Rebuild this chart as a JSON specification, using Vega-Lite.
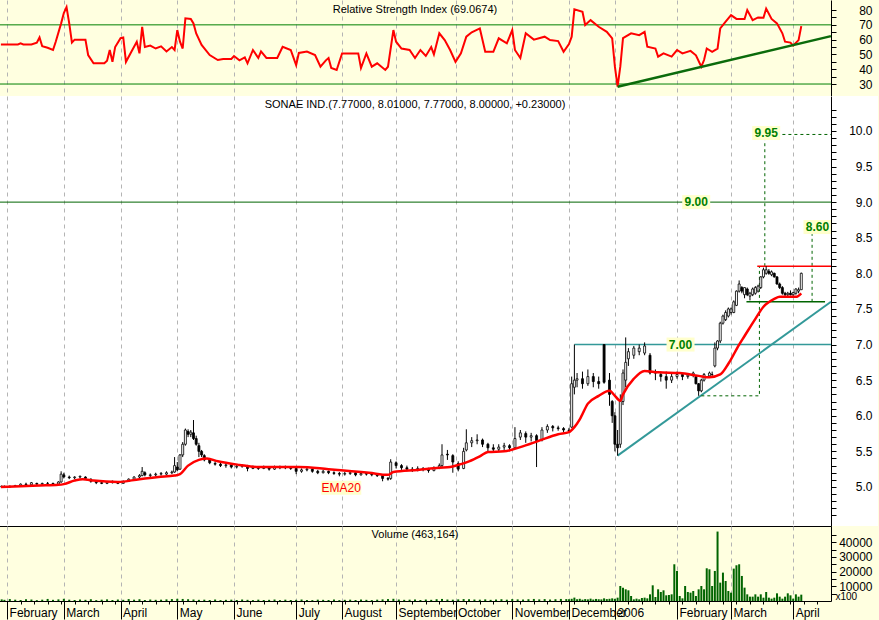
{
"$schema": "https://vega.github.io/schema/vega-lite/v6.json",
"background": "#FFFFE0",
"padding": {"left": -5, "top": 0, "right": 0, "bottom": 0},
"spacing": 0,
"config": {
  "view": {"stroke": null},
  "font": "Liberation Sans",
  "scale": {"continuousPadding": 0},
  "axis": {"labelFont": "Liberation Sans", "labelFontSize": 12, "labelColor": "#000000", "tickColor": "#000000", "domainColor": "#000000", "titleFont": "Liberation Sans"}
},
"datasets": {
  "rsi": [
    {"d":0.7,"r":56.8},{"d":7,"r":56.8},{"d":8,"r":57.5},{"d":9,"r":56.8},{"d":12,"r":56.8},{"d":14,"r":58},{"d":15,"r":61.5},{"d":16,"r":55.5},{"d":18,"r":54.5},{"d":20,"r":53},{"d":21,"r":58.6},{"d":23,"r":71},{"d":24,"r":78},{"d":25,"r":82},{"d":26,"r":71},{"d":27,"r":58},{"d":28,"r":60},{"d":32,"r":60},{"d":33,"r":49.6},{"d":35,"r":44},{"d":39,"r":44},{"d":40,"r":45.7},{"d":41,"r":53},{"d":42,"r":45},{"d":43,"r":55},{"d":45,"r":61},{"d":46,"r":61.5},{"d":47,"r":45},{"d":49,"r":51.8},{"d":51,"r":58.6},{"d":52,"r":50.7},{"d":53,"r":68.7},{"d":54,"r":55},{"d":56,"r":56},{"d":58,"r":54},{"d":60,"r":55.5},{"d":62,"r":52},{"d":64,"r":55},{"d":65,"r":53},{"d":66,"r":66.5},{"d":67,"r":58.6},{"d":68,"r":54},{"d":69,"r":74.4},{"d":71,"r":74},{"d":72,"r":71},{"d":73,"r":64.2},{"d":75,"r":56.4},{"d":78,"r":49.6},{"d":81,"r":46.2},{"d":83,"r":46.9},{"d":86,"r":46.9},{"d":87,"r":48.9},{"d":89,"r":46},{"d":91,"r":48},{"d":92,"r":44},{"d":94,"r":53},{"d":96,"r":47.6},{"d":97,"r":52},{"d":99,"r":47.6},{"d":103,"r":47.6},{"d":105,"r":55.2},{"d":108,"r":53},{"d":110,"r":42.8},{"d":111,"r":51},{"d":114,"r":52},{"d":117,"r":49.6},{"d":119,"r":41.7},{"d":121,"r":46},{"d":122,"r":47.6},{"d":123,"r":40.8},{"d":125,"r":39.5},{"d":127,"r":50.7},{"d":133,"r":50.7},{"d":134,"r":40.8},{"d":136,"r":50.7},{"d":138,"r":41.7},{"d":140,"r":44},{"d":143,"r":39.5},{"d":144,"r":41.7},{"d":146,"r":66.5},{"d":147,"r":58.6},{"d":149,"r":54},{"d":152,"r":53},{"d":154,"r":47.6},{"d":156,"r":53},{"d":158,"r":49},{"d":160,"r":55},{"d":161,"r":50},{"d":163,"r":64.3},{"d":165,"r":59.7},{"d":167,"r":53},{"d":169,"r":45},{"d":171,"r":50.7},{"d":173,"r":62},{"d":175,"r":65},{"d":178,"r":67.6},{"d":180,"r":51.8},{"d":183,"r":51.8},{"d":185,"r":60.9},{"d":188,"r":57.5},{"d":190,"r":66.5},{"d":191,"r":53},{"d":193,"r":47.6},{"d":195,"r":64.3},{"d":198,"r":60},{"d":202,"r":62},{"d":204,"r":59.7},{"d":207,"r":59},{"d":209,"r":51.8},{"d":211,"r":57},{"d":212,"r":62},{"d":213,"r":80.5},{"d":216,"r":78.9},{"d":217,"r":69.9},{"d":219,"r":73.2},{"d":222,"r":68.7},{"d":225,"r":65.3},{"d":227,"r":60.9},{"d":228,"r":41.7},{"d":229,"r":28.2},{"d":230,"r":41.7},{"d":231,"r":61},{"d":234,"r":64.3},{"d":237,"r":63},{"d":239,"r":65.3},{"d":240,"r":55.2},{"d":243,"r":54},{"d":244,"r":48.5},{"d":246,"r":50.7},{"d":249,"r":48.5},{"d":251,"r":53},{"d":253,"r":50.7},{"d":256,"r":52.4},{"d":258,"r":49.4},{"d":260,"r":41.7},{"d":261,"r":46.2},{"d":262,"r":54},{"d":264,"r":51.8},{"d":266,"r":54},{"d":267,"r":67.6},{"d":269,"r":72.1},{"d":271,"r":76.6},{"d":273,"r":74},{"d":276,"r":74},{"d":277,"r":80},{"d":279,"r":73.2},{"d":281,"r":75},{"d":283,"r":74.8},{"d":284,"r":81},{"d":286,"r":74},{"d":288,"r":71},{"d":290,"r":64.3},{"d":291,"r":58.6},{"d":293,"r":58},{"d":294,"r":56},{"d":296,"r":59.7},{"d":297,"r":69.1}
  ],
  "px": [
    {"d":1,"o":5.00,"h":5.02,"l":4.99,"c":5.01},{"d":2,"o":5.01,"h":5.02,"l":4.99,"c":5.00},{"d":4,"o":5.00,"h":5.02,"l":4.99,"c":5.01},{"d":6,"o":5.01,"h":5.03,"l":5.00,"c":5.02},{"d":8,"o":5.02,"h":5.05,"l":5.01,"c":5.04},{"d":10,"o":5.04,"h":5.06,"l":5.02,"c":5.03},{"d":12,"o":5.03,"h":5.07,"l":5.02,"c":5.06},{"d":14,"o":5.05,"h":5.06,"l":5.03,"c":5.04},{"d":16,"o":5.04,"h":5.06,"l":5.03,"c":5.05},{"d":18,"o":5.05,"h":5.07,"l":5.04,"c":5.05},{"d":20,"o":5.05,"h":5.06,"l":5.03,"c":5.04},{"d":22,"o":5.04,"h":5.08,"l":5.03,"c":5.07},{"d":23,"o":5.07,"h":5.22,"l":5.06,"c":5.18},{"d":24,"o":5.17,"h":5.20,"l":5.12,"c":5.14},{"d":26,"o":5.14,"h":5.16,"l":5.11,"c":5.13},{"d":28,"o":5.13,"h":5.15,"l":5.11,"c":5.14},{"d":30,"o":5.14,"h":5.16,"l":5.12,"c":5.15},{"d":32,"o":5.14,"h":5.15,"l":5.10,"c":5.12},{"d":34,"o":5.11,"h":5.12,"l":5.06,"c":5.08},{"d":36,"o":5.08,"h":5.09,"l":5.04,"c":5.06},{"d":38,"o":5.06,"h":5.08,"l":5.04,"c":5.05},{"d":40,"o":5.05,"h":5.08,"l":5.04,"c":5.07},{"d":42,"o":5.06,"h":5.09,"l":5.05,"c":5.08},{"d":44,"o":5.07,"h":5.08,"l":5.04,"c":5.05},{"d":46,"o":5.05,"h":5.09,"l":5.05,"c":5.08},{"d":48,"o":5.08,"h":5.12,"l":5.07,"c":5.11},{"d":50,"o":5.11,"h":5.15,"l":5.10,"c":5.14},{"d":52,"o":5.14,"h":5.18,"l":5.12,"c":5.16},{"d":53,"o":5.16,"h":5.28,"l":5.15,"c":5.22},{"d":54,"o":5.20,"h":5.22,"l":5.15,"c":5.17},{"d":56,"o":5.16,"h":5.19,"l":5.14,"c":5.17},{"d":58,"o":5.17,"h":5.20,"l":5.15,"c":5.18},{"d":60,"o":5.18,"h":5.21,"l":5.16,"c":5.19},{"d":62,"o":5.18,"h":5.22,"l":5.17,"c":5.20},{"d":64,"o":5.20,"h":5.23,"l":5.18,"c":5.21},{"d":65,"o":5.21,"h":5.42,"l":5.20,"c":5.30},{"d":66,"o":5.28,"h":5.35,"l":5.22,"c":5.24},{"d":67,"o":5.25,"h":5.46,"l":5.24,"c":5.45},{"d":68,"o":5.45,"h":5.63,"l":5.42,"c":5.60},{"d":69,"o":5.60,"h":5.82,"l":5.58,"c":5.80},{"d":70,"o":5.78,"h":5.81,"l":5.70,"c":5.74},{"d":71,"o":5.74,"h":5.80,"l":5.70,"c":5.77},{"d":72,"o":5.76,"h":5.94,"l":5.66,"c":5.68},{"d":73,"o":5.68,"h":5.72,"l":5.58,"c":5.60},{"d":74,"o":5.58,"h":5.62,"l":5.42,"c":5.50},{"d":75,"o":5.50,"h":5.52,"l":5.42,"c":5.45},{"d":76,"o":5.44,"h":5.46,"l":5.36,"c":5.38},{"d":78,"o":5.38,"h":5.40,"l":5.32,"c":5.34},{"d":80,"o":5.33,"h":5.36,"l":5.30,"c":5.32},{"d":82,"o":5.32,"h":5.34,"l":5.28,"c":5.30},{"d":84,"o":5.30,"h":5.33,"l":5.27,"c":5.31},{"d":86,"o":5.31,"h":5.32,"l":5.26,"c":5.28},{"d":88,"o":5.28,"h":5.31,"l":5.26,"c":5.29},{"d":90,"o":5.29,"h":5.32,"l":5.27,"c":5.30},{"d":92,"o":5.30,"h":5.31,"l":5.22,"c":5.26},{"d":94,"o":5.26,"h":5.30,"l":5.25,"c":5.28},{"d":96,"o":5.28,"h":5.29,"l":5.24,"c":5.26},{"d":98,"o":5.26,"h":5.30,"l":5.25,"c":5.28},{"d":100,"o":5.28,"h":5.29,"l":5.23,"c":5.25},{"d":102,"o":5.25,"h":5.30,"l":5.24,"c":5.28},{"d":104,"o":5.28,"h":5.30,"l":5.25,"c":5.27},{"d":106,"o":5.27,"h":5.30,"l":5.25,"c":5.28},{"d":108,"o":5.28,"h":5.29,"l":5.24,"c":5.26},{"d":110,"o":5.26,"h":5.27,"l":5.18,"c":5.22},{"d":112,"o":5.22,"h":5.26,"l":5.20,"c":5.24},{"d":114,"o":5.24,"h":5.27,"l":5.22,"c":5.25},{"d":116,"o":5.25,"h":5.26,"l":5.20,"c":5.22},{"d":118,"o":5.22,"h":5.24,"l":5.18,"c":5.20},{"d":120,"o":5.20,"h":5.24,"l":5.19,"c":5.22},{"d":122,"o":5.22,"h":5.23,"l":5.18,"c":5.20},{"d":124,"o":5.20,"h":5.22,"l":5.17,"c":5.19},{"d":126,"o":5.19,"h":5.21,"l":5.15,"c":5.18},{"d":128,"o":5.18,"h":5.21,"l":5.16,"c":5.19},{"d":130,"o":5.19,"h":5.22,"l":5.17,"c":5.20},{"d":132,"o":5.20,"h":5.21,"l":5.15,"c":5.17},{"d":134,"o":5.17,"h":5.21,"l":5.16,"c":5.19},{"d":136,"o":5.19,"h":5.20,"l":5.16,"c":5.18},{"d":138,"o":5.18,"h":5.20,"l":5.15,"c":5.17},{"d":140,"o":5.17,"h":5.19,"l":5.14,"c":5.16},{"d":142,"o":5.16,"h":5.17,"l":5.08,"c":5.12},{"d":144,"o":5.12,"h":5.14,"l":5.09,"c":5.11},{"d":145,"o":5.12,"h":5.39,"l":5.10,"c":5.35},{"d":147,"o":5.34,"h":5.36,"l":5.26,"c":5.30},{"d":149,"o":5.30,"h":5.32,"l":5.24,"c":5.27},{"d":151,"o":5.27,"h":5.30,"l":5.22,"c":5.25},{"d":153,"o":5.25,"h":5.28,"l":5.21,"c":5.24},{"d":155,"o":5.24,"h":5.29,"l":5.22,"c":5.26},{"d":157,"o":5.26,"h":5.28,"l":5.22,"c":5.25},{"d":159,"o":5.25,"h":5.27,"l":5.20,"c":5.23},{"d":161,"o":5.23,"h":5.29,"l":5.22,"c":5.27},{"d":163,"o":5.27,"h":5.33,"l":5.25,"c":5.30},{"d":164,"o":5.30,"h":5.60,"l":5.28,"c":5.45},{"d":166,"o":5.46,"h":5.52,"l":5.38,"c":5.45},{"d":168,"o":5.44,"h":5.46,"l":5.20,"c":5.35},{"d":170,"o":5.33,"h":5.36,"l":5.22,"c":5.25},{"d":172,"o":5.26,"h":5.55,"l":5.25,"c":5.50},{"d":173,"o":5.52,"h":5.81,"l":5.50,"c":5.62},{"d":175,"o":5.62,"h":5.70,"l":5.56,"c":5.65},{"d":177,"o":5.65,"h":5.74,"l":5.60,"c":5.66},{"d":179,"o":5.66,"h":5.68,"l":5.56,"c":5.60},{"d":181,"o":5.60,"h":5.62,"l":5.50,"c":5.55},{"d":183,"o":5.55,"h":5.60,"l":5.49,"c":5.53},{"d":185,"o":5.53,"h":5.60,"l":5.50,"c":5.56},{"d":187,"o":5.56,"h":5.62,"l":5.52,"c":5.58},{"d":189,"o":5.58,"h":5.60,"l":5.50,"c":5.55},{"d":191,"o":5.55,"h":5.84,"l":5.54,"c":5.68},{"d":193,"o":5.70,"h":5.80,"l":5.66,"c":5.76},{"d":195,"o":5.75,"h":5.78,"l":5.62,"c":5.70},{"d":197,"o":5.70,"h":5.76,"l":5.64,"c":5.72},{"d":199,"o":5.72,"h":5.74,"l":5.28,"c":5.65},{"d":201,"o":5.66,"h":5.84,"l":5.64,"c":5.80},{"d":203,"o":5.80,"h":5.88,"l":5.76,"c":5.85},{"d":205,"o":5.85,"h":5.87,"l":5.78,"c":5.83},{"d":207,"o":5.83,"h":5.86,"l":5.79,"c":5.82},{"d":209,"o":5.82,"h":5.84,"l":5.77,"c":5.80},{"d":211,"o":5.80,"h":5.83,"l":5.76,"c":5.79},{"d":212,"o":5.84,"h":6.55,"l":5.83,"c":6.45},{"d":213,"o":6.40,"h":7.00,"l":6.30,"c":6.50},{"d":214,"o":6.50,"h":6.60,"l":6.40,"c":6.52},{"d":216,"o":6.52,"h":6.62,"l":6.38,"c":6.45},{"d":218,"o":6.45,"h":6.65,"l":6.42,"c":6.55},{"d":220,"o":6.55,"h":6.60,"l":6.40,"c":6.48},{"d":222,"o":6.48,"h":6.55,"l":6.38,"c":6.45},{"d":224,"o":7.00,"h":7.00,"l":6.45,"c":6.47},{"d":226,"o":6.50,"h":6.60,"l":6.14,"c":6.30},{"d":227,"o":6.20,"h":6.22,"l":5.90,"c":6.00},{"d":228,"o":6.00,"h":6.05,"l":5.50,"c":5.60},{"d":229,"o":5.60,"h":5.80,"l":5.44,"c":5.55},{"d":230,"o":5.60,"h":6.30,"l":5.55,"c":6.20},{"d":231,"o":6.20,"h":6.65,"l":6.15,"c":6.60},{"d":232,"o":6.50,"h":7.10,"l":6.40,"c":6.75},{"d":233,"o":6.80,"h":6.95,"l":6.70,"c":6.90},{"d":235,"o":6.85,"h":6.98,"l":6.80,"c":6.95},{"d":237,"o":6.90,"h":7.00,"l":6.85,"c":6.95},{"d":239,"o":6.88,"h":7.03,"l":6.85,"c":6.98},{"d":241,"o":6.85,"h":6.88,"l":6.58,"c":6.60},{"d":243,"o":6.60,"h":6.65,"l":6.50,"c":6.60},{"d":245,"o":6.58,"h":6.62,"l":6.48,"c":6.55},{"d":247,"o":6.55,"h":6.62,"l":6.38,"c":6.50},{"d":249,"o":6.50,"h":6.60,"l":6.46,"c":6.55},{"d":251,"o":6.55,"h":6.62,"l":6.52,"c":6.58},{"d":253,"o":6.58,"h":6.60,"l":6.50,"c":6.55},{"d":255,"o":6.55,"h":6.60,"l":6.52,"c":6.57},{"d":257,"o":6.57,"h":6.62,"l":6.54,"c":6.60},{"d":258,"o":6.55,"h":6.56,"l":6.44,"c":6.45},{"d":259,"o":6.45,"h":6.46,"l":6.28,"c":6.35},{"d":260,"o":6.35,"h":6.52,"l":6.33,"c":6.50},{"d":261,"o":6.50,"h":6.60,"l":6.48,"c":6.58},{"d":263,"o":6.56,"h":6.62,"l":6.53,"c":6.60},{"d":264,"o":6.58,"h":6.62,"l":6.55,"c":6.58},{"d":265,"o":6.70,"h":7.03,"l":6.68,"c":6.95},{"d":266,"o":6.95,"h":7.06,"l":6.92,"c":7.05},{"d":267,"o":7.05,"h":7.32,"l":7.02,"c":7.30},{"d":268,"o":7.30,"h":7.42,"l":7.28,"c":7.40},{"d":269,"o":7.35,"h":7.48,"l":7.33,"c":7.45},{"d":270,"o":7.40,"h":7.52,"l":7.38,"c":7.50},{"d":271,"o":7.45,"h":7.52,"l":7.42,"c":7.50},{"d":272,"o":7.45,"h":7.62,"l":7.44,"c":7.60},{"d":273,"o":7.55,"h":7.76,"l":7.54,"c":7.75},{"d":274,"o":7.75,"h":7.90,"l":7.73,"c":7.85},{"d":275,"o":7.80,"h":7.82,"l":7.72,"c":7.75},{"d":276,"o":7.70,"h":7.80,"l":7.65,"c":7.80},{"d":277,"o":7.78,"h":7.80,"l":7.68,"c":7.70},{"d":278,"o":7.68,"h":7.74,"l":7.62,"c":7.72},{"d":279,"o":7.70,"h":7.80,"l":7.68,"c":7.78},{"d":280,"o":7.72,"h":7.82,"l":7.70,"c":7.80},{"d":281,"o":7.75,"h":7.84,"l":7.73,"c":7.82},{"d":282,"o":7.80,"h":7.96,"l":7.78,"c":7.95},{"d":283,"o":7.95,"h":8.08,"l":7.93,"c":8.05},{"d":284,"o":8.00,"h":8.10,"l":7.98,"c":8.05},{"d":285,"o":8.03,"h":8.06,"l":7.98,"c":8.00},{"d":286,"o":7.98,"h":8.04,"l":7.96,"c":8.02},{"d":287,"o":8.00,"h":8.01,"l":7.94,"c":7.95},{"d":288,"o":7.95,"h":7.96,"l":7.84,"c":7.85},{"d":289,"o":7.85,"h":7.87,"l":7.78,"c":7.80},{"d":290,"o":7.80,"h":7.82,"l":7.70,"c":7.72},{"d":291,"o":7.72,"h":7.74,"l":7.68,"c":7.70},{"d":292,"o":7.70,"h":7.74,"l":7.68,"c":7.72},{"d":293,"o":7.72,"h":7.76,"l":7.69,"c":7.70},{"d":294,"o":7.70,"h":7.74,"l":7.68,"c":7.73},{"d":295,"o":7.72,"h":7.79,"l":7.70,"c":7.78},{"d":296,"o":7.75,"h":7.80,"l":7.72,"c":7.77},{"d":297,"o":7.77,"h":8.01,"l":7.77,"c":8.00}
  ],
  "ema": [
    {"d":0.7,"p":5.00},{"d":8,"p":5.01},{"d":15,"p":5.02},{"d":22,"p":5.03},{"d":24,"p":5.04},{"d":28,"p":5.09},{"d":31,"p":5.11},{"d":35,"p":5.09},{"d":44,"p":5.07},{"d":52,"p":5.11},{"d":59,"p":5.14},{"d":65,"p":5.16},{"d":67,"p":5.18},{"d":70,"p":5.30},{"d":74,"p":5.38},{"d":77,"p":5.40},{"d":81,"p":5.36},{"d":89,"p":5.31},{"d":96,"p":5.28},{"d":111,"p":5.28},{"d":122,"p":5.25},{"d":137,"p":5.20},{"d":144,"p":5.17},{"d":146,"p":5.21},{"d":155,"p":5.24},{"d":163,"p":5.27},{"d":167,"p":5.28},{"d":170,"p":5.31},{"d":174,"p":5.36},{"d":178,"p":5.43},{"d":181,"p":5.49},{"d":187,"p":5.50},{"d":193,"p":5.56},{"d":200,"p":5.65},{"d":207,"p":5.74},{"d":211,"p":5.77},{"d":213,"p":5.84},{"d":215,"p":5.95},{"d":218,"p":6.17},{"d":222,"p":6.28},{"d":226,"p":6.35},{"d":228,"p":6.28},{"d":230,"p":6.21},{"d":231,"p":6.30},{"d":235,"p":6.52},{"d":239,"p":6.63},{"d":244,"p":6.61},{"d":252,"p":6.60},{"d":259,"p":6.56},{"d":263,"p":6.54},{"d":267,"p":6.58},{"d":270,"p":6.73},{"d":274,"p":7.00},{"d":276,"p":7.12},{"d":280,"p":7.36},{"d":283,"p":7.53},{"d":287,"p":7.64},{"d":289,"p":7.67},{"d":295,"p":7.67},{"d":297,"p":7.72}
  ],
  "vol": [
    {"d":1,"v":1100},{"d":2,"v":800},{"d":4,"v":1300},{"d":6,"v":900},{"d":8,"v":700},{"d":10,"v":1200},{"d":12,"v":1000},{"d":14,"v":600},{"d":16,"v":900},{"d":18,"v":1400},{"d":20,"v":800},{"d":22,"v":1100},{"d":24,"v":1500},{"d":26,"v":900},{"d":28,"v":700},{"d":30,"v":1000},{"d":32,"v":800},{"d":34,"v":1200},{"d":36,"v":600},{"d":38,"v":900},{"d":40,"v":1100},{"d":42,"v":700},{"d":44,"v":1000},{"d":46,"v":800},{"d":48,"v":1300},{"d":50,"v":900},{"d":52,"v":1200},{"d":54,"v":700},{"d":56,"v":1000},{"d":58,"v":800},{"d":60,"v":900},{"d":62,"v":1100},{"d":64,"v":1300},{"d":66,"v":1500},{"d":68,"v":1400},{"d":70,"v":1200},{"d":72,"v":1000},{"d":74,"v":800},{"d":76,"v":900},{"d":78,"v":700},{"d":80,"v":1000},{"d":82,"v":600},{"d":84,"v":800},{"d":86,"v":900},{"d":88,"v":700},{"d":90,"v":1000},{"d":92,"v":800},{"d":94,"v":600},{"d":96,"v":900},{"d":98,"v":700},{"d":100,"v":800},{"d":102,"v":1000},{"d":104,"v":600},{"d":106,"v":900},{"d":108,"v":700},{"d":110,"v":800},{"d":112,"v":1000},{"d":114,"v":700},{"d":116,"v":600},{"d":118,"v":900},{"d":120,"v":800},{"d":122,"v":700},{"d":124,"v":1000},{"d":126,"v":600},{"d":128,"v":800},{"d":130,"v":900},{"d":132,"v":700},{"d":134,"v":1000},{"d":136,"v":800},{"d":138,"v":600},{"d":140,"v":900},{"d":142,"v":1100},{"d":144,"v":1300},{"d":146,"v":1500},{"d":148,"v":1000},{"d":150,"v":800},{"d":152,"v":900},{"d":154,"v":1100},{"d":156,"v":700},{"d":158,"v":1000},{"d":160,"v":800},{"d":162,"v":1200},{"d":164,"v":1400},{"d":166,"v":1000},{"d":168,"v":900},{"d":170,"v":1100},{"d":172,"v":1300},{"d":174,"v":1200},{"d":176,"v":1000},{"d":178,"v":900},{"d":180,"v":1100},{"d":182,"v":800},{"d":184,"v":1000},{"d":186,"v":1200},{"d":188,"v":900},{"d":190,"v":1300},{"d":192,"v":1100},{"d":194,"v":1000},{"d":196,"v":1200},{"d":198,"v":1400},{"d":200,"v":1100},{"d":202,"v":1300},{"d":204,"v":1000},{"d":206,"v":1200},{"d":208,"v":1400},{"d":210,"v":1300},
    {"d":211,"v":1200},{"d":212,"v":1500},{"d":213,"v":2300},{"d":214,"v":1200},{"d":215,"v":1500},{"d":216,"v":900},{"d":217,"v":1300},{"d":218,"v":1100},{"d":219,"v":1600},{"d":220,"v":1000},{"d":221,"v":1400},{"d":222,"v":1200},{"d":223,"v":1100},{"d":224,"v":1800},{"d":225,"v":1300},{"d":226,"v":1500},{"d":227,"v":1800},{"d":228,"v":1500},{"d":229,"v":2270},{"d":230,"v":10215},{"d":231,"v":9080},{"d":232,"v":7945},{"d":233,"v":7260},{"d":234,"v":3400},{"d":235,"v":1135},{"d":236,"v":1590},{"d":237,"v":1135},{"d":238,"v":2040},{"d":239,"v":2270},{"d":240,"v":1816},{"d":241,"v":4540},{"d":242,"v":10670},{"d":243,"v":2720},{"d":244,"v":7945},{"d":245,"v":6130},{"d":246,"v":7260},{"d":247,"v":3860},{"d":248,"v":4090},{"d":249,"v":4540},{"d":250,"v":24970},{"d":251,"v":20430},{"d":252,"v":3400},{"d":253,"v":1816},{"d":254,"v":10215},{"d":255,"v":6130},{"d":256,"v":5675},{"d":257,"v":6810},{"d":258,"v":3400},{"d":259,"v":7945},{"d":260,"v":10215},{"d":261,"v":7945},{"d":262,"v":22250},{"d":263,"v":21565},{"d":264,"v":10215},{"d":265,"v":20430},{"d":266,"v":47216},{"d":267,"v":12485},{"d":268,"v":19295},{"d":269,"v":13620},{"d":270,"v":6810},{"d":271,"v":5675},{"d":272,"v":22020},{"d":273,"v":24290},{"d":274,"v":24970},{"d":275,"v":17025},{"d":276,"v":9080},{"d":277,"v":4540},{"d":278,"v":2950},{"d":279,"v":2950},{"d":280,"v":4540},{"d":281,"v":2950},{"d":282,"v":4540},{"d":283,"v":2270},{"d":284,"v":6130},{"d":285,"v":2270},{"d":286,"v":1590},{"d":287,"v":2270},{"d":288,"v":5220},{"d":289,"v":2950},{"d":290,"v":1590},{"d":291,"v":2950},{"d":292,"v":5220},{"d":293,"v":3860},{"d":294,"v":1590},{"d":295,"v":4540},{"d":296,"v":2950},{"d":297,"v":4310}
  ],
  "levels": [
    {"d":258.1,"p":9.0,"t":"9.00"},{"d":252.3,"p":7.0,"t":"7.00"},{"d":284,"p":9.97,"t":"9.95"},{"d":303,"p":8.65,"t":"8.60"}
  ],
  "dash": [
    {"s":"a","i":0,"d":260,"p":6.28},{"s":"a","i":1,"d":281.5,"p":6.28},{"s":"a","i":2,"d":281.5,"p":8.1},
    {"s":"b","i":0,"d":283.5,"p":8.1},{"s":"b","i":1,"d":283.5,"p":9.87},
    {"s":"c","i":0,"d":290,"p":9.95},{"s":"c","i":1,"d":308,"p":9.95},
    {"s":"e","i":0,"d":301,"p":7.6},{"s":"e","i":1,"d":301,"p":8.55}
  ]
},
"vconcat": [
  {
    "width": 832, "height": 96,
    "encoding": {
      "x": {"field": "d", "type": "quantitative", "scale": {"domain": [0, 308], "nice": false, "zero": false, "padding": 0},
            "axis": {"orient": "bottom", "values": [3,24,45,66,87,110,127,147,169,190,211,228,251,271,294], "grid": true, "gridColor": "#b4b4b4", "gridDash": [4,4], "labels": false, "ticks": false, "domain": true, "title": null}},
      "y": {"field": "r", "type": "quantitative", "scale": {"domain": [21.9, 86.8], "nice": false, "zero": false, "padding": 0},
            "axis": {"orient": "right", "values": [30,35,40,45,50,55,60,65,70,75,80], "labelExpr": "datum.value % 10 == 0 ? format(datum.value, 'd') : ''", "labelAlign": "right", "labelBaseline": "middle", "labelPadding": 36, "tickSize": 5, "grid": false, "title": null}}
    },
    "layer": [
      {
        "data": {"values": [{"d": 0, "r": 30}, {"d": 308, "r": 30}, {"d": 0, "r": 70}, {"d": 308, "r": 70}]},
        "mark": {"type": "line", "color": "#008000", "strokeWidth": 1},
        "encoding": {"detail": {"field": "r", "type": "nominal"}}
      },
      {
        "data": {"name": "rsi"},
        "mark": {"type": "line", "color": "#FF0000", "strokeWidth": 2}
      },
      {
        "data": {"values": [{"d": 229, "r": 28.2}, {"d": 308, "r": 62.4}]},
        "mark": {"type": "line", "color": "#0B6B0B", "strokeWidth": 2.5}
      },
      {
        "data": {"values": [{"d": 154, "r": 80.3, "t": "Relative Strength Index (69.0674)"}]},
        "mark": {"type": "text", "font": "Liberation Sans", "fontSize": 11, "color": "#000000", "align": "center", "baseline": "middle"},
        "encoding": {"text": {"field": "t"}}
      }
    ]
  },
  {
    "width": 832, "height": 430,
    "view": {"fill": "white", "stroke": null},
    "encoding": {
      "x": {"field": "d", "type": "quantitative", "scale": {"domain": [0, 308], "nice": false, "zero": false, "padding": 0},
            "axis": {"orient": "bottom", "values": [3,24,45,66,87,110,127,147,169,190,211,228,251,271,294], "grid": true, "gridColor": "#b4b4b4", "gridDash": [4,4], "labels": false, "ticks": false, "domain": true, "title": null}},
      "y": {"field": "p", "type": "quantitative", "scale": {"domain": [4.452, 10.49], "nice": false, "zero": false, "padding": 0},
            "axis": {"orient": "right", "zindex": 1, "values": [4.6,4.7,4.8,4.9,5,5.1,5.2,5.3,5.4,5.5,5.6,5.7,5.8,5.9,6,6.1,6.2,6.3,6.4,6.5,6.6,6.7,6.8,6.9,7,7.1,7.2,7.3,7.4,7.5,7.6,7.7,7.8,7.9,8,8.1,8.2,8.3,8.4,8.5,8.6,8.7,8.8,8.9,9,9.1,9.2,9.3,9.4,9.5,9.6,9.7,9.8,9.9,10,10.1,10.2,10.3], "labelExpr": "abs(datum.value*2 - round(datum.value*2)) < 0.01 ? format(datum.value, '.1f') : ''", "labelAlign": "right", "labelBaseline": "middle", "labelPadding": 36, "tickSize": 5, "grid": false, "title": null}}
    },
    "layer": [
      {
        "data": {"values": [{"d": 308, "d2": 325.4, "p": 4.452, "p2": 10.49}]},
        "mark": {"type": "rect", "color": "#FFFFFF"},
        "encoding": {"x2": {"field": "d2"}, "y2": {"field": "p2"}}
      },
      {
        "data": {"values": [{"d": 0, "p": 9.0}, {"d": 308, "p": 9.0}]},
        "mark": {"type": "line", "color": "#006400", "strokeWidth": 1}
      },
      {
        "data": {"values": [{"d": 213, "p": 7.0}, {"d": 308, "p": 7.0}]},
        "mark": {"type": "line", "color": "#339999", "strokeWidth": 1.5}
      },
      {
        "data": {"values": [{"d": 229, "p": 5.44}, {"d": 308, "p": 7.6}]},
        "mark": {"type": "line", "color": "#339999", "strokeWidth": 2}
      },
      {
        "data": {"name": "dash"},
        "mark": {"type": "line", "color": "#006400", "strokeWidth": 1, "strokeDash": [3, 3]},
        "encoding": {"detail": {"field": "s", "type": "nominal"}, "order": {"field": "i", "type": "quantitative"}}
      },
      {
        "data": {"values": [{"d": 280.7, "p": 8.1}, {"d": 308, "p": 8.1}]},
        "mark": {"type": "line", "color": "#FF0000", "strokeWidth": 1.5}
      },
      {
        "data": {"values": [{"d": 276.7, "p": 7.6}, {"d": 305.8, "p": 7.6}]},
        "mark": {"type": "line", "color": "#006400", "strokeWidth": 1.5}
      },
      {
        "data": {"name": "px"},
        "mark": {"type": "rule", "color": "#000000", "strokeWidth": 1},
        "encoding": {
          "y": {"field": "l", "type": "quantitative", "scale": {"domain": [4.452, 10.49], "nice": false, "zero": false, "padding": 0},
                "axis": {"orient": "right", "zindex": 1, "values": [4.6,4.7,4.8,4.9,5,5.1,5.2,5.3,5.4,5.5,5.6,5.7,5.8,5.9,6,6.1,6.2,6.3,6.4,6.5,6.6,6.7,6.8,6.9,7,7.1,7.2,7.3,7.4,7.5,7.6,7.7,7.8,7.9,8,8.1,8.2,8.3,8.4,8.5,8.6,8.7,8.8,8.9,9,9.1,9.2,9.3,9.4,9.5,9.6,9.7,9.8,9.9,10,10.1,10.2,10.3], "labelExpr": "abs(datum.value*2 - round(datum.value*2)) < 0.01 ? format(datum.value, '.1f') : ''", "labelAlign": "right", "labelBaseline": "middle", "labelPadding": 36, "tickSize": 5, "grid": false, "title": null}},
          "y2": {"field": "h"}
        }
      },
      {
        "data": {"name": "px"},
        "mark": {"type": "bar", "size": 2, "stroke": "#000000", "strokeWidth": 0.8},
        "encoding": {
          "y": {"field": "o", "type": "quantitative", "scale": {"domain": [4.452, 10.49], "nice": false, "zero": false, "padding": 0},
                "axis": {"orient": "right", "zindex": 1, "values": [4.6,4.7,4.8,4.9,5,5.1,5.2,5.3,5.4,5.5,5.6,5.7,5.8,5.9,6,6.1,6.2,6.3,6.4,6.5,6.6,6.7,6.8,6.9,7,7.1,7.2,7.3,7.4,7.5,7.6,7.7,7.8,7.9,8,8.1,8.2,8.3,8.4,8.5,8.6,8.7,8.8,8.9,9,9.1,9.2,9.3,9.4,9.5,9.6,9.7,9.8,9.9,10,10.1,10.2,10.3], "labelExpr": "abs(datum.value*2 - round(datum.value*2)) < 0.01 ? format(datum.value, '.1f') : ''", "labelAlign": "right", "labelBaseline": "middle", "labelPadding": 36, "tickSize": 5, "grid": false, "title": null}},
          "y2": {"field": "c"},
          "fill": {"condition": {"test": "datum.c >= datum.o", "value": "#FFFFFF"}, "value": "#000000"}
        }
      },
      {
        "data": {"name": "ema"},
        "mark": {"type": "line", "color": "#FF0000", "strokeWidth": 2.5, "interpolate": "monotone"}
      },
      {
        "data": {"name": "levels"},
        "mark": {"type": "point", "shape": "M-1,-0.5H1V0.5H-1Z", "size": 784, "filled": true, "fill": "#FFFFCC", "strokeWidth": 0, "opacity": 1}
      },
      {
        "data": {"name": "levels"},
        "mark": {"type": "text", "font": "Liberation Sans", "fontWeight": "bold", "fontSize": 12, "color": "#008000", "align": "center", "baseline": "middle"},
        "encoding": {"text": {"field": "t"}}
      },
      {
        "data": {"values": [{"d": 126.7, "p": 4.99, "t": "EMA20"}]},
        "mark": {"type": "point", "shape": "M-1,-0.35H1V0.35H-1Z", "size": 1600, "filled": true, "fill": "#FFFFCC", "strokeWidth": 0, "opacity": 1}
      },
      {
        "data": {"values": [{"d": 126.7, "p": 4.99, "t": "EMA20"}]},
        "mark": {"type": "text", "font": "Liberation Sans", "fontSize": 12, "color": "#FF0000", "align": "center", "baseline": "middle"},
        "encoding": {"text": {"field": "t"}}
      },
      {
        "data": {"values": [{"d": 154, "p": 10.36, "t": "SONAE IND.(7.77000, 8.01000, 7.77000, 8.00000, +0.23000)"}]},
        "mark": {"type": "text", "font": "Liberation Sans", "fontSize": 11, "color": "#000000", "align": "center", "baseline": "middle"},
        "encoding": {"text": {"field": "t"}}
      }
    ]
  },
  {
    "width": 832, "height": 75,
    "resolve": {"axis": {"x": "independent"}},
    "encoding": {
      "x": {"field": "d", "type": "quantitative", "scale": {"domain": [0, 308], "nice": false, "zero": false, "padding": 0},
            "axis": {"orient": "bottom", "values": [3,24,45,66,87,110,127,147,169,190,211,228,251,271,294], "grid": true, "gridColor": "#b4b4b4", "gridDash": [4,4], "labels": true,
                     "labelExpr": "['February','March','April','May','June','July','August','September','October','November','December','2006','February','March','April'][indexof([3,24,45,66,87,110,127,147,169,190,211,228,251,271,294], datum.value)]",
                     "labelAlign": "left", "labelBaseline": "top", "labelPadding": -12, "labelOffset": 2, "labelFlush": false, "labelOverlap": false, "labelBound": false,
                     "ticks": true, "tickSize": 18, "domain": true, "title": null}},
      "y": {"field": "v", "type": "quantitative", "scale": {"domain": [0, 51000], "nice": false, "zero": true, "padding": 0},
            "axis": {"orient": "right", "values": [5000,10000,15000,20000,25000,30000,35000,40000,45000], "labelExpr": "datum.value % 10000 == 0 ? format(datum.value, 'd') : ''", "labelAlign": "right", "labelBaseline": "middle", "labelPadding": 36, "tickSize": 5, "grid": false,
                     "title": "x100", "titleAngle": 0, "titleAlign": "left", "titleBaseline": "middle", "titleX": 4, "titleY": 70, "titleFontSize": 10, "titleFontWeight": "normal"}}
    },
    "layer": [
      {
        "data": {"name": "vol"},
        "mark": {"type": "bar", "color": "#006400", "size": 2}
      },
      {
        "data": {"values": [{"d": 154, "v": 44900, "t": "Volume (463,164)"}]},
        "mark": {"type": "text", "font": "Liberation Sans", "fontSize": 11, "color": "#000000", "align": "center", "baseline": "middle"},
        "encoding": {
          "x": {"field": "d", "type": "quantitative", "scale": {"domain": [0, 308], "nice": false, "zero": false, "padding": 0},
                "axis": {"orient": "bottom", "values": [3,8,13,18,23,28,33,38,43,48,53,58,63,68,73,78,83,88,93,98,103,108,113,118,123,128,133,138,143,148,153,158,163,168,173,178,183,188,193,198,203,208,213,218,223,228,233,238,243,248,253,258,263,268,273,278,283,288,293,298,303], "labels": false, "ticks": true, "tickSize": 3, "domain": false, "grid": false, "title": null}},
          "text": {"field": "t"}
        }
      }
    ]
  }
]
}
